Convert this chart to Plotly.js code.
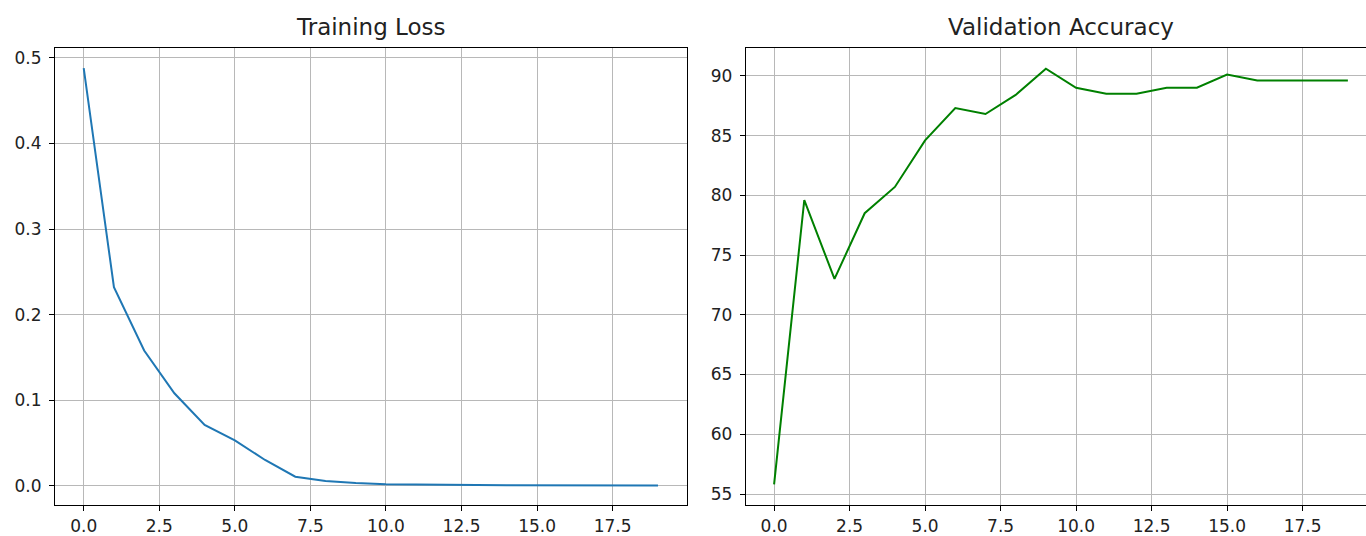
<!DOCTYPE html>
<html>
<head>
<meta charset="utf-8">
<script src="https://cdn.plot.ly/plotly-3.0.1.min.js"></script>
<style>html,body{margin:0;padding:0;background:#fff;}#chart{width:1366px;height:536px;}</style>
</head>
<body>
<div id="chart"></div>
<script>
const epochs = [0,1,2,3,4,5,6,7,8,9,10,11,12,13,14,15,16,17,18,19];
const trainLoss = [0.488,0.232,0.158,0.108,0.071,0.053,0.030,0.0105,0.0055,0.003,0.0018,0.0012,0.0009,0.0007,0.0006,0.0005,0.0004,0.0004,0.0003,0.0003];
const valAcc = [55.8,79.6,73.0,78.5,80.7,84.6,87.3,86.8,88.4,90.6,89.0,88.5,88.5,89.0,89.0,90.1,89.6,89.6,89.6,89.6];
const titles = ["Training Loss","Validation Accuracy"];

const W = 1366, H = 536;
const font = {family: "DejaVu Sans, sans-serif", size: 17, color: "#222"};
const axisCommon = {
  showline: true, mirror: true, linecolor: "#000", linewidth: 1,
  ticks: "outside", ticklen: 5, tickwidth: 1, tickcolor: "#000",
  showgrid: true, gridcolor: "#b8b8b8", gridwidth: 1,
  zeroline: false, tickfont: font, automargin: false
};

const traces = [
  {x: epochs, y: trainLoss, type: "scatter", mode: "lines", xaxis: "x", yaxis: "y",
   line: {color: "#1f77b4", width: 2}, hoverinfo: "skip"},
  {x: epochs, y: valAcc, type: "scatter", mode: "lines", xaxis: "x2", yaxis: "y2",
   line: {color: "#008000", width: 2}, hoverinfo: "skip"}
];

const yBot = 1 - 505/H, yTop = 1 - 47.5/H;
const layout = {
  width: W, height: H,
  margin: {l: 0, r: 0, t: 0, b: 0},
  paper_bgcolor: "#fff", plot_bgcolor: "#fff",
  showlegend: false,
  font: font,
  xaxis: Object.assign({}, axisCommon, {domain: [55/W, 686.7/W], range: [-0.95, 19.95], tick0: 0, dtick: 2.5, tickformat: ".1f", anchor: "y", ticklabelstandoff: 1}),
  yaxis: Object.assign({}, axisCommon, {domain: [yBot, yTop], range: [-0.0226, 0.5122], tick0: 0, dtick: 0.1, tickformat: ".1f", anchor: "x", ticklabelstandoff: 4}),
  xaxis2: Object.assign({}, axisCommon, {domain: [745.7/W, 1], range: [-0.94, 19.6], tick0: 0, dtick: 2.5, tickformat: ".1f", anchor: "y2", ticklabelstandoff: 1}),
  yaxis2: Object.assign({}, axisCommon, {domain: [yBot, yTop], range: [54.08, 92.37], tick0: 55, dtick: 5, anchor: "x2", ticklabelstandoff: 4}),
  annotations: [
    {text: titles[0], xref: "paper", yref: "paper", x: 370.9/W, y: 1 - 27/H, xanchor: "center", yanchor: "middle", showarrow: false, font: {family: font.family, size: 23, color: "#222"}},
    {text: titles[1], xref: "paper", yref: "paper", x: 1061/W, y: 1 - 27/H, xanchor: "center", yanchor: "middle", showarrow: false, font: {family: font.family, size: 23, color: "#222"}}
  ]
};

Plotly.newPlot("chart", traces, layout, {staticPlot: true, displayModeBar: false});
</script>
</body>
</html>
